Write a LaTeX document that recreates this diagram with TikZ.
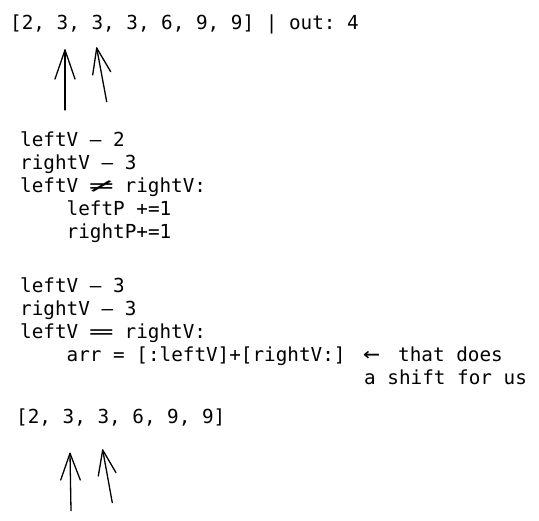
\documentclass[tikz,border=0pt]{standalone}
\usepackage{fontspec}
\setmonofont{DejaVu Sans Mono}
\newcommand\widene{\makebox[23.2bp][c]{\scalebox{2.2}[1]{≠}}}
\newcommand\wideeq{\makebox[23.2bp][c]{\scalebox{2.2}[1]{=}}}
\begin{document}
\begin{tikzpicture}[x=1bp,y=-1bp,
  txt/.style={inner sep=0pt, anchor=base west, font=\ttfamily\fontsize{19.3bp}{23bp}\selectfont},
  pen/.style={line width=1.3bp, line cap=round, line join=round}]
\useasboundingbox (0,0) rectangle (539,521);
% top array
\node[txt] (arrA) at (10,30) {[2, 3, 3, 3, 6, 9, 9] | out: 4};
% block 1
\node[txt] (l1) at (20,147) {leftV – 2};
\node[txt] (l2) at (20,170) {rightV – 3};
\node[txt] (l3) at (20,193) {leftV \widene{} rightV:};
\node[txt] (l4) at (66.5,215.5) {leftP +=1};
\node[txt] (l5) at (66.5,238) {rightP+=1};
% block 2
\node[txt] (m1) at (20,292) {leftV – 3};
\node[txt] (m2) at (20,315) {rightV – 3};
\node[txt] (m3) at (20,338) {leftV \wideeq{} rightV:};
\node[txt] (m4) at (66.5,361) {arr = [:leftV]+[rightV:]};
\node[txt] (la) at (363,361) {\scalebox{1.45}[1.2]{←}};
\node[txt] (n1) at (398,361) {that does};
\node[txt] (n2) at (364,384) {a shift for us};
% bottom array
\node[txt] (arrB) at (16,423) {[2, 3, 3, 6, 9, 9]};
% top arrows
\coordinate (t1) at (65,110); \coordinate (p1) at (65,50);
\coordinate (h1a) at (55,79); \coordinate (h1b) at (75,79);
\coordinate (t2) at (106.7,101.7); \coordinate (p2) at (96.7,48);
\coordinate (h2a) at (92.7,75); \coordinate (h2b) at (110.7,71.7);
\draw[pen] (t1) -- (p1); \draw[pen] (h1a) -- (p1) -- (h1b);
\draw[pen] (t2) -- (p2); \draw[pen] (h2a) -- (p2) -- (h2b);
% bottom arrows
\coordinate (t3) at (71,510.7); \coordinate (p3) at (70,453.3);
\coordinate (h3a) at (60.7,480); \coordinate (h3b) at (80.3,480);
\coordinate (t4) at (112.3,502.7); \coordinate (p4) at (102.7,450);
\coordinate (h4a) at (98.3,476); \coordinate (h4b) at (116,472.7);
\draw[pen] (t3) -- (p3); \draw[pen] (h3a) -- (p3) -- (h3b);
\draw[pen] (t4) -- (p4); \draw[pen] (h4a) -- (p4) -- (h4b);
\end{tikzpicture}
\end{document}
